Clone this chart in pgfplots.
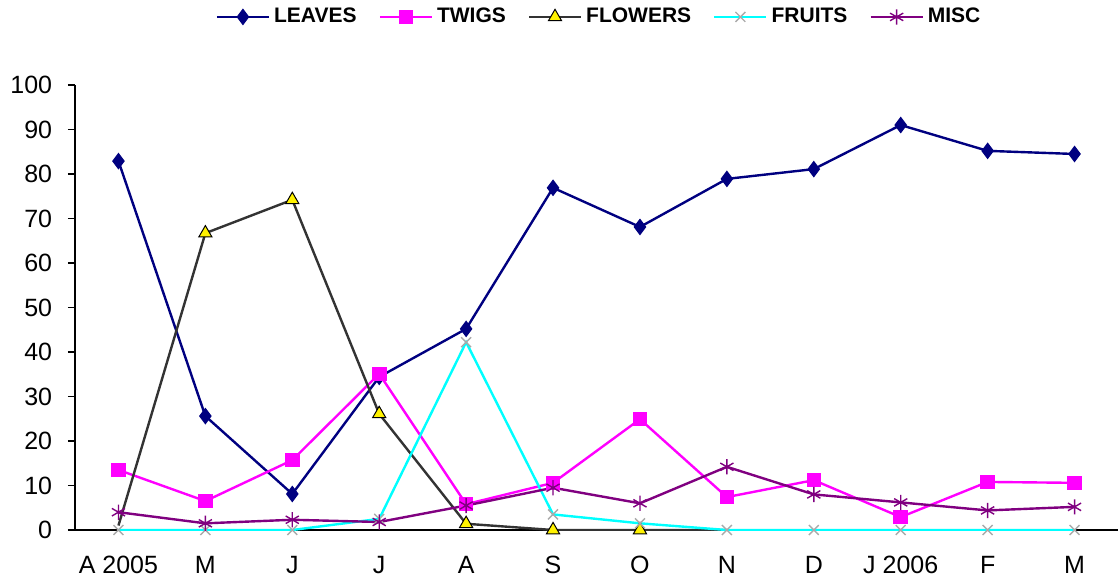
\documentclass[border=0pt]{standalone}
\usepackage{pgfplots}
\pgfplotsset{compat=1.18}
\usepackage{fontspec}
\setmainfont{Liberation Sans}
\definecolor{leaves}{RGB}{0,0,128}
\definecolor{twigs}{RGB}{255,0,255}
\definecolor{flowers}{RGB}{51,51,51}
\definecolor{fruits}{RGB}{0,255,255}
\definecolor{fruitmark}{RGB}{170,170,170}
\definecolor{misc}{RGB}{128,0,128}
\begin{document}
\begin{tikzpicture}
\path[use as bounding box] (-37.5pt,-24.5pt) rectangle (521.5pt,265pt);
\begin{axis}[
  scale only axis, width=521.5pt, height=222.5pt,
  at={(0,0)}, anchor=south west,
  xmin=-0.5, xmax=11.5, ymin=0, ymax=100,
  axis x line=bottom, axis y line=left,
  axis line style={-, black, line width=0.6pt},
  ytick={0,10,...,100},
  xtick={0,...,11},
  xticklabels={A 2005,M,J,J,A,S,O,N,D,J 2006,F,M},
  extra x ticks={-0.5,0.5,1.5,2.5,3.5,4.5,5.5,6.5,7.5,8.5,9.5,10.5},
  extra x tick labels={},
  extra x tick style={major tick length=3.5pt, tick style={black, line width=0.6pt}, tick align=outside},
  x tick style={draw=none},
  y tick style={black, line width=0.6pt},
  major tick length=3.5pt, tick align=outside,
  tick label style={font=\fontsize{12.5}{14}\selectfont},
  xticklabel style={anchor=base, yshift=-18pt, inner ysep=1pt},
  yticklabel style={xshift=-4pt},
  /pgf/number format/assume math mode=true,
  legend style={at={(0.5034,1.153)}, anchor=center, draw=none, fill=none,
    font=\fontsize{10.5}{12}\selectfont\bfseries, legend columns=5,
    /tikz/every even column/.append style={column sep=9pt}},
  legend image code/.code={
    \draw[mark=none] (0pt,0pt) -- (26pt,0pt);
    \draw[mark indices={1}] plot coordinates {(13pt,0pt)};},
  line width=1.2pt,
]
\addplot[color=leaves, mark=diamond*, mark size=3.8pt, mark options={fill=leaves, line width=0.5pt}] coordinates {
(0,82.9) (1,25.6) (2,8.1) (3,34.4) (4,45.2) (5,76.9) (6,68.1) (7,78.9) (8,81.1) (9,91.0) (10,85.2) (11,84.5)};
\addlegendentry{LEAVES}
\addplot[color=twigs, mark=square*, mark size=3.4pt, mark options={fill=twigs, line width=0.5pt}] coordinates {
(0,13.5) (1,6.5) (2,15.7) (3,35.1) (4,5.8) (5,10.6) (6,24.9) (7,7.4) (8,11.2) (9,2.9) (10,10.8) (11,10.6)};
\addlegendentry{TWIGS}
\addplot[color=flowers, mark=triangle*, mark size=3.8pt, mark indices={2,3,4,5,6,7}, mark options={fill=yellow, draw=black, line width=0.5pt}] coordinates {
(0,1.0) (1,66.7) (2,74.2) (3,26.1) (4,1.4) (5,0) (6,0) (7,0)};
\addlegendentry{FLOWERS}
\addplot[color=fruits, mark=x, mark size=3.5pt, mark options={draw=fruitmark, line width=0.7pt}] coordinates {
(0,0) (1,0) (2,0) (3,2.5) (4,42.2) (5,3.5) (6,1.5) (7,0) (8,0) (9,0) (10,0) (11,0)};
\addlegendentry{FRUITS}
\addplot[color=misc, mark=asterisk, mark size=3.8pt, mark options={line width=0.7pt}] coordinates {
(0,4.0) (1,1.5) (2,2.3) (3,1.8) (4,5.5) (5,9.5) (6,6.0) (7,14.2) (8,8.0) (9,6.2) (10,4.4) (11,5.2)};
\addlegendentry{MISC}
\end{axis}
\end{tikzpicture}
\end{document}
